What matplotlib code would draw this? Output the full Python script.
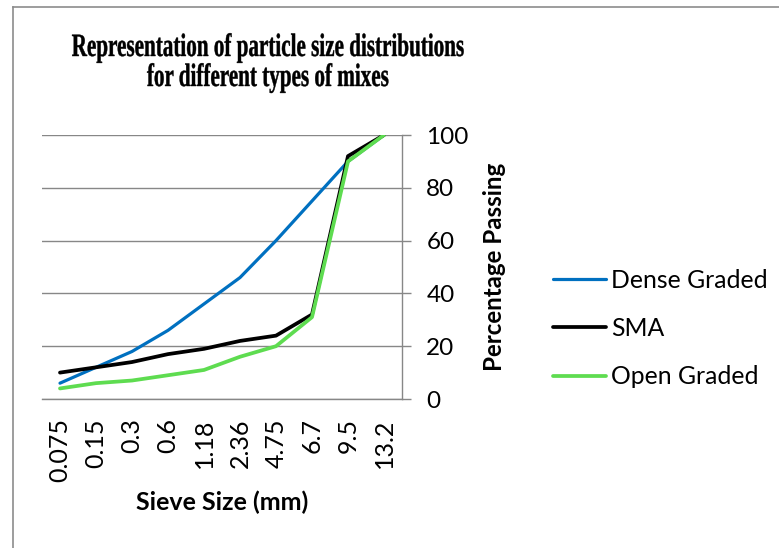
import matplotlib
matplotlib.use("Agg")
import matplotlib.pyplot as plt
from matplotlib.patheffects import AbstractPathEffect
from matplotlib.transforms import Affine2D
from matplotlib.lines import Line2D

sieve_sizes = ["0.075", "0.15", "0.3", "0.6", "1.18", "2.36", "4.75", "6.7", "9.5", "13.2"]
dense_graded = [6, 12, 18, 26, 36, 46, 60, 75, 90, 100]
sma = [10, 12, 14, 17, 19, 22, 24, 32, 92, 100]
open_graded = [4, 6, 7, 9, 11, 16, 20, 31, 90, 100]
y_ticks = [0, 20, 40, 60, 80, 100]


class Condense(AbstractPathEffect):
    """Draw text narrower/taller around its centre, slightly emboldened."""
    def __init__(self, sx, sy=1.0, bold=0.0):
        super().__init__()
        self.sx, self.sy, self.bold = sx, sy, bold

    def draw_path(self, renderer, gc, tpath, affine, rgbFace=None):
        ext = tpath.get_extents()
        cx = (ext.x0 + ext.x1) / 2
        t = Affine2D().translate(-cx, 0).scale(self.sx, self.sy).translate(cx, 0) + affine
        gc0 = renderer.new_gc()
        gc0.copy_properties(gc)
        if self.bold > 0 and rgbFace is not None:
            gc0.set_linewidth(self.bold)
            gc0.set_foreground(rgbFace)
        renderer.draw_path(gc0, tpath, t, rgbFace)
        gc0.restore()


W, H = 779, 548
fig = plt.figure(figsize=(W / 100, H / 100), dpi=100)
fig.patch.set_facecolor("white")

# outer chart border (top and left visible)
fig.add_artist(Line2D([12.5 / W, 12.5 / W], [0, 1 - 7 / H], transform=fig.transFigure,
                      color="#8c8c8c", lw=1.2))
fig.add_artist(Line2D([12.5 / W, 1], [1 - 7 / H, 1 - 7 / H], transform=fig.transFigure,
                      color="#8c8c8c", lw=1.2))

x0, x1, ytop, ybot = 42, 402, 135, 399
ax = fig.add_axes([x0 / W, 1 - ybot / H, (x1 - x0) / W, (ybot - ytop) / H])

xs = list(range(len(sieve_sizes)))
ax.plot(xs, dense_graded, color="#0070C0", lw=2.3, label="Dense Graded", solid_capstyle="round")
ax.plot(xs, sma, color="#000000", lw=2.7, label="SMA", solid_capstyle="round")
ax.plot(xs, open_graded, color="#5EDC50", lw=2.7, label="Open Graded", solid_capstyle="round")

ax.set_xlim(-0.5, len(sieve_sizes) - 0.5)
ax.set_ylim(0, 100)
ax.set_xticks(xs)
ax.set_xticklabels(sieve_sizes, rotation=90, fontsize=18, family="Lato")
ax.set_yticks(y_ticks)
ax.set_yticklabels([str(v) for v in y_ticks], fontsize=17.5, family="Lato")

ax.yaxis.tick_right()
ax.tick_params(axis="y", length=6.5, width=1, color="#878787", pad=11)
ax.tick_params(axis="x", length=0, pad=14)
ax.grid(axis="y", color="#878787", lw=1)
ax.set_axisbelow(True)
for s in ["top", "left"]:
    ax.spines[s].set_visible(False)
for s in ["right", "bottom"]:
    ax.spines[s].set_color("#878787")
    ax.spines[s].set_linewidth(1)

ax.set_xlabel("Sieve Size (mm)", fontsize=18, family="Lato", fontweight="bold")
ax.xaxis.label.set_va("baseline")
ax.xaxis.set_label_coords(0.5, (ybot - 510) / (ybot - ytop))

ax.yaxis.set_label_position("right")
ax.set_ylabel("Percentage Passing", fontsize=17.4, family="Lato", fontweight="bold")
ax.yaxis.label.set_va("center")
ax.yaxis.set_label_coords((495 - x0) / (x1 - x0), 0.5)

leg = ax.legend(loc="center left", bbox_to_anchor=(553 / W, 1 - 328.5 / H),
                bbox_transform=fig.transFigure, frameon=False, borderpad=0,
                borderaxespad=0, handlelength=2.15, handletextpad=0.2,
                labelspacing=1.02, prop={"family": "Lato", "size": 17.8})

title_lines = ["Representation of particle size distributions", "for different types of mixes"]
for line, yb in zip(title_lines, [56, 86]):
    fig.text(268 / W, 1 - yb / H, line, ha="center", va="baseline",
             family="Liberation Serif", fontweight="bold", fontsize=20,
             path_effects=[Condense(0.76, 1.17, 0.3)])

fig.savefig("out.png", dpi=100, facecolor="white")
